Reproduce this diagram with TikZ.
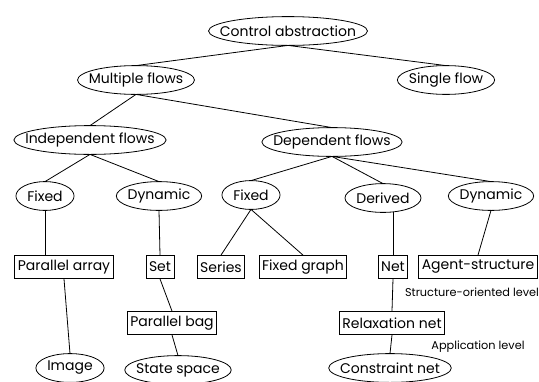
\documentclass[tikz,border=0pt]{standalone}
\usepackage{fontspec}
\setmainfont{Poppins}
\usetikzlibrary{calc}

\tikzset{
  oval/.style={inner xsep=11pt, inner ysep=1pt, minimum height=28pt},
  stage/.style={draw, inner xsep=3pt, inner ysep=1pt, minimum height=23pt},
  level/.style={font=\fontsize{11.3}{13}\selectfont}
}

\begin{document}
\begin{tikzpicture}[x=1pt,y=-1pt,line width=0.8pt,font=\fontsize{14}{16}\selectfont]
    \useasboundingbox (0,0) rectangle (539,381);

    %% Abstractions (drawn as ovals below)
    \node[oval] (ctrl) at (288,31) {Control abstraction};
    \node[oval] (multi) at (136,80) {Multiple flows};
    \node[oval] (single) at (446,80) {Single flow};
    \node[oval] (indep) at (90,140) {Independent flows};
    \node[oval] (dep) at (332,142) {Dependent flows};
    \node[oval] (fixA) at (45,196) {Fixed};
    \node[oval] (dynA) at (159,196) {Dynamic};
    \node[oval] (fixB) at (251,195) {Fixed};
    \node[oval] (derived) at (383,198) {Derived};
    \node[oval] (dynB) at (491,196) {Dynamic};

    %% Structures
    \node[stage] (pararray) at (64,267) {Parallel array};
    \node[stage] (set) at (160,267) {Set};
    \node[stage] (series) at (221,267) {Series};
    \node[stage] (fixgraph) at (303,267) {Fixed graph};
    \node[stage] (net) at (393,267) {Net};
    \node[stage] (agent) at (478,267) {Agent-structure};
    \node[stage] (parbag) at (172,323) {Parallel bag};
    \node[stage] (relax) at (392,323) {Relaxation net};

    %% Applications
    \node[oval] (image) at (70,368) {Image};
    \node[oval] (state) at (178,370) {State space};
    \node[oval] (constr) at (390,368) {Constraint net};

    %% Level labels
    \node[level] (structlvl) at (472,292) {Structure-oriented level};
    \node[level] (applvl) at (478,347) {Application level};

    %% Ovals round the text
    \foreach \o in {ctrl,multi,single,indep,dep,fixA,dynA,fixB,derived,dynB,image,state,constr}
        \draw let \p1=($(\o.north east)-(\o.center)$) in
            (\o.center) ellipse [x radius=\x1, y radius=\y1];

    %% Tree edges
    \draw (ctrl.south) -- (multi.north);
    \draw (ctrl.south) -- (single.north);
    \draw (multi.south) -- (indep.north);
    \draw (multi.south) -- (dep.north);
    \draw (indep.south) -- (fixA.north);
    \draw (indep.south) -- (dynA.north);
    \draw (dep.south) -- (fixB.north);
    \draw (dep.south) -- (derived.north);
    \draw (dep.south) -- (dynB.north);
    \draw (fixA.south) -- (fixA.south |- pararray.north);
    \draw (dynA.south) -- (set.north);
    \draw (fixB.south) -- (series.north);
    \draw (fixB.south) -- (fixgraph.north);
    \draw (net.north |- derived.south) -- (net.north);
    \draw (dynB.south) -- (agent.north);
    \draw (pararray.south) -- (image.north);
    \draw (set.south) -- (parbag.north);
    \draw (parbag.south) -- (state.north);
    \draw (net.south) -- (relax.north);
    \draw (relax.south) -- (constr.north);
\end{tikzpicture}
\end{document}
